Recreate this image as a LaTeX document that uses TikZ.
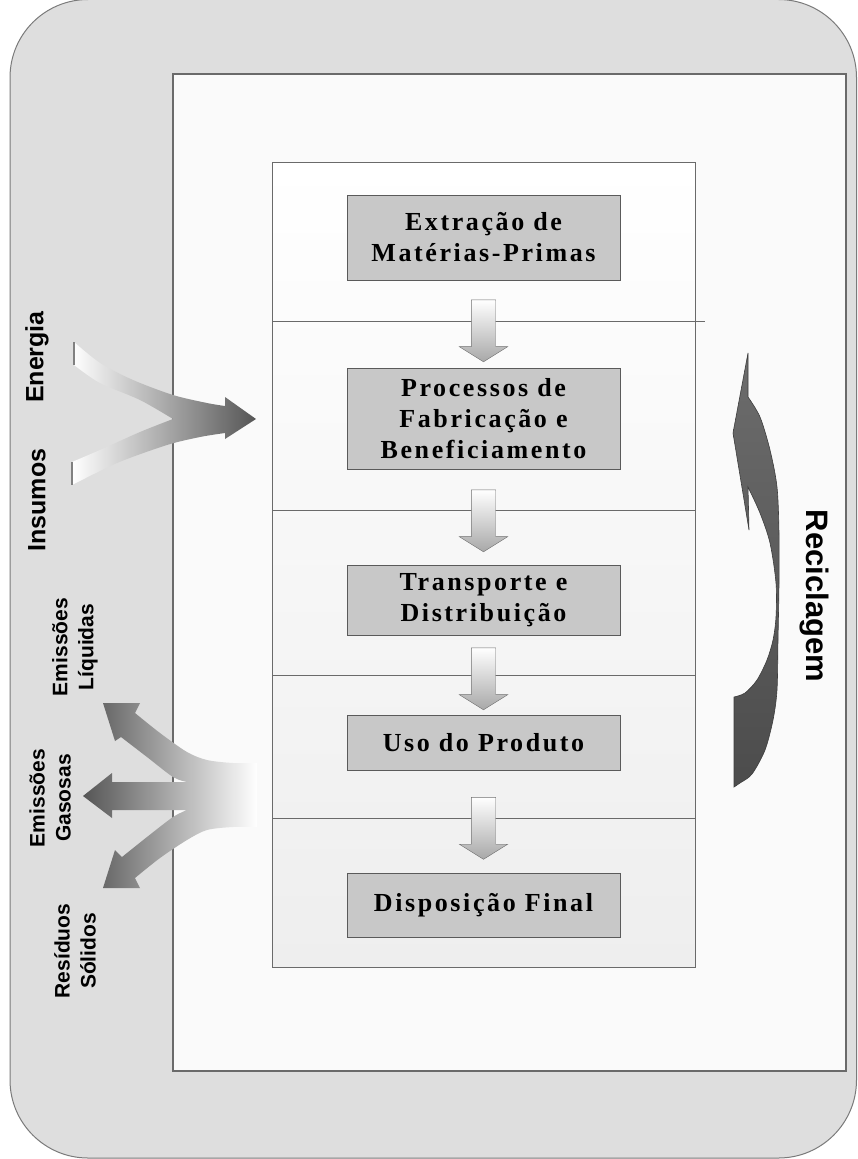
\documentclass[tikz,border=0pt]{standalone}
\usepackage{fontspec}
\setmainfont{Liberation Serif}
\newfontfamily\boxfont[LetterSpace=10]{Liberation Serif}
\newfontfamily\labelfont{Liberation Sans}
\usetikzlibrary{shapes.arrows,calc,positioning}

\definecolor{bggray}{HTML}{DEDEDE}
\definecolor{bgedge}{HTML}{7A7A7A}
\definecolor{innerwhite}{HTML}{FAFAFA}
\definecolor{frameedge}{HTML}{6A6A6A}
\definecolor{framelow}{HTML}{EEEEEE}
\definecolor{boxfill}{HTML}{C8C8C8}
\definecolor{boxedge}{HTML}{5A5A5A}
\definecolor{arrowfill}{HTML}{A8A8A8}
\definecolor{arrowedge}{HTML}{707070}
\definecolor{sidedark}{HTML}{555555}
\definecolor{recdark}{HTML}{4C4C4C}
\definecolor{reclight}{HTML}{6C6C6C}

\begin{document}
\begin{tikzpicture}[x=1pt,y=-1pt,
    procbox/.style={draw=boxedge, fill=boxfill, line width=1pt, minimum width=273pt,
        align=center, font=\boxfont\bfseries\fontsize{26}{31}\selectfont},
    flowarrow/.style={single arrow, shape border rotate=270, draw=arrowedge,
        top color=white, bottom color=arrowfill, minimum height=62pt, minimum width=48pt,
        inner sep=12pt, single arrow head extend=12pt, single arrow tip angle=116},
    sidelabel/.style={font=\labelfont\bfseries\fontsize{21}{26}\selectfont, align=center, rotate=90}
]
    % Parameters
    \pgfmathsetmacro{\boxx}{483.5}
    \pgfmathsetmacro{\frameleft}{272}
    \pgfmathsetmacro{\frameright}{695}

    \useasboundingbox (0,0) rectangle (857,1159);

    % Background panels
    \draw[draw=bgedge, fill=bggray, line width=1pt, rounded corners=78pt] (10,-0.5) rectangle (856.5,1158);
    \draw[draw=frameedge, fill=innerwhite, line width=1.2pt] (173,74) rectangle (846,1071);
    \draw[draw=frameedge, top color=white, bottom color=framelow, line width=1pt] (\frameleft,162) rectangle (\frameright,967);
    \draw[frameedge, line width=1pt] (\frameleft,321) -- (705,321);
    \foreach \ly in {510,675,818}
        \draw[frameedge, line width=1pt] (\frameleft,\ly) -- (\frameright,\ly);

    % Life cycle stages
    \node[procbox, minimum height=85pt] (extr) at (\boxx,237.5) {Extração de\\Matérias-Primas};
    \node[procbox, minimum height=101pt] (proc) at (\boxx,418.5) {Processos de\\Fabricação e\\Beneficiamento};
    \node[procbox, minimum height=70pt] (trans) at (\boxx,600) {Transporte e\\Distribuição};
    \node[procbox, minimum height=55pt] (uso) at (\boxx,742.5) {Uso do Produto};
    \node[procbox, minimum height=64pt] (disp) at (\boxx,905) {Disposição Final};

    \node[flowarrow] (a1) at ($(extr.south)!0.5!(proc.north)+(0,3)$) {};
    \node[flowarrow] (a2) at ($(proc.south)!0.5!(trans.north)$) {};
    \node[flowarrow] (a3) at ($(trans.south)!0.5!(uso.north)$) {};
    \node[flowarrow] (a4) at ($(uso.south)!0.5!(disp.north)+(0,3)$) {};

    % Inputs
    \path[left color=white, right color=sidedark]
        plot[smooth] coordinates {(74,342) (100,363) (133,380) (173,395) (207,403) (225,406)}
        -- (225,397) -- (256,419) -- (225,439) -- (225,433)
        -- plot[smooth] coordinates {(225,433) (200,437) (167,445) (117,463) (72,485)}
        -- (72,462)
        -- plot[smooth] coordinates {(72,462) (100,450) (140,432) (173,419)}
        -- plot[smooth] coordinates {(173,419) (140,400) (100,383) (74,365)}
        -- cycle;
    \draw[gray, line width=1.2pt] (74,342) -- (74,365);
    \draw[gray, line width=1.2pt] (72,462) -- (72,485);

    % Outputs
    \path[left color=sidedark, right color=white]
        plot[smooth] coordinates {(257,763) (233,763) (207,760) (187,752) (160,733) (135,713)}
        -- (140,703) -- (103,703) -- (115,741) -- (121,737)
        -- plot[smooth] coordinates {(121,737) (147,757) (173,777) (187,782)}
        -- (112,782) -- (112,773) -- (83,796) -- (112,818) -- (112,810) -- (187,810)
        -- plot[smooth] coordinates {(187,810) (173,817) (147,837) (122,857)}
        -- (115,850) -- (103,888) -- (140,888) -- (135,878)
        -- plot[smooth] coordinates {(135,878) (160,858) (187,840) (207,830) (233,827) (257,827)}
        -- cycle;

    % Recycling arrow
    \draw[draw=recdark!80!black, top color=reclight, bottom color=recdark, line width=0.6pt]
        (748,353) -- (748,397)
        -- plot[smooth] coordinates {(748,397) (760,417) (770,450) (777,487) (779,533) (779,583)
            (778,640) (777,690) (773,720) (765,750) (752,774) (740,783) (734,787)}
        -- (734,697)
        -- plot[smooth] coordinates {(734,697) (745,693) (757,680) (767,660) (773,640) (776,617)
            (776,583) (770,543) (760,513) (748,487)}
        -- (749,530) -- (733,433) -- cycle;

    % Labels
    \node[sidelabel, font=\labelfont\bfseries\fontsize{25}{30}\selectfont] (energia) at (37,357) {Energia};
    \node[sidelabel, font=\labelfont\bfseries\fontsize{25}{30}\selectfont] (insumos) at (37,500) {Insumos};
    \node[sidelabel] (liq) at (75,647) {Emissões\\Líquidas};
    \node[sidelabel] (gas) at (50,798) {Emissões\\Gasosas};
    \node[sidelabel] (sol) at (75,951) {Resíduos\\Sólidos};
    \node[sidelabel, rotate=180, font=\labelfont\bfseries\fontsize{31}{36}\selectfont] (recic) at (814,596) {Reciclagem};
\end{tikzpicture}
\end{document}
